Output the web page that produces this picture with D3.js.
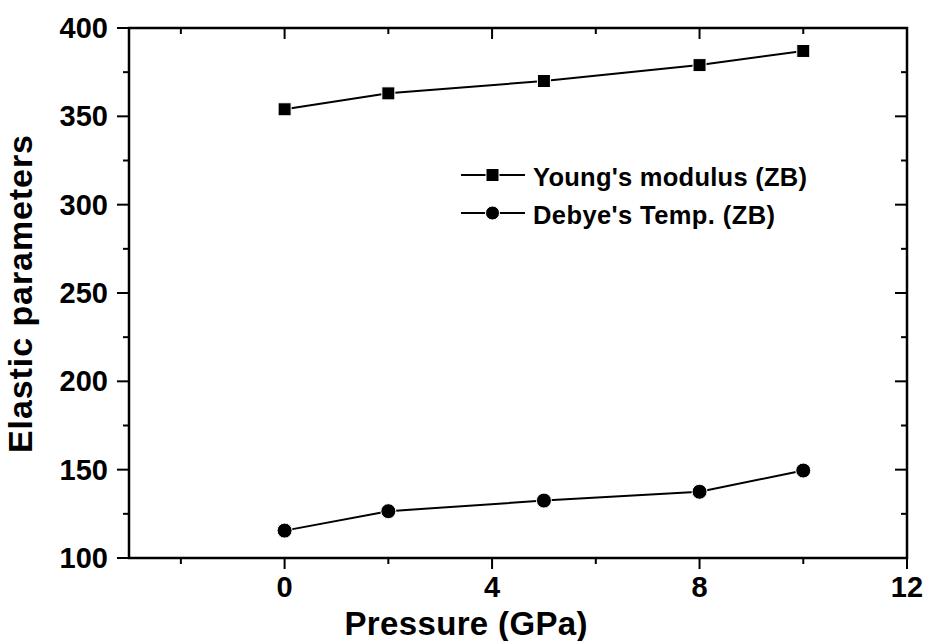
<!DOCTYPE html>
<html>
<head>
<meta charset="utf-8">
<script src="https://cdn.jsdelivr.net/npm/d3@7"></script>
<style>
  body { margin: 0; background: #fff; }
  text { font-family: Arial, "Liberation Sans", sans-serif; font-weight: bold; fill: #000; }
</style>
</head>
<body>
<svg id="chart"></svg>
<script>
// Data
var pressure = [0, 2, 5, 8, 10];
var youngs = [354, 363, 370, 379, 387];
var debye = [115.5, 126.5, 132.5, 137.5, 149.5];
var seriesNames = ["Young's modulus (ZB)", "Debye's Temp. (ZB)"];
var xTicks = [0, 4, 8, 12];
var yTicks = [100, 150, 200, 250, 300, 350, 400];

var width = 927, height = 641;
var plotL = 129, plotR = 907, plotT = 28, plotB = 558;

var svg = d3.select('#chart')
  .attr('width', width)
  .attr('height', height);

var x = d3.scaleLinear().domain([-3, 12]).range([plotL, plotR]);
var y = d3.scaleLinear().domain([100, 400]).range([plotB, plotT]);

var minorX = d3.range(-2, 12.1, 2);
var minorY = d3.range(100, 400.1, 25);

// frame
svg.append('rect')
  .attr('x', plotL).attr('y', plotT)
  .attr('width', plotR - plotL).attr('height', plotB - plotT)
  .attr('fill', 'none').attr('stroke', '#000').attr('stroke-width', 2.5);

// ticks: outward on bottom/left, inward on top/right
function isMajorX(v) { return v % 4 === 0; }
function isMajorY(v) { return v % 50 === 0; }

svg.append('g').selectAll('line').data(minorX).enter().append('line')
  .attr('x1', x).attr('x2', x)
  .attr('y1', plotB).attr('y2', function(d){ return plotB + (isMajorX(d) ? 11 : 6); })
  .attr('stroke', '#000').attr('stroke-width', 2);
svg.append('g').selectAll('line').data(minorX).enter().append('line')
  .attr('x1', x).attr('x2', x)
  .attr('y1', plotT).attr('y2', function(d){ return plotT + (isMajorX(d) ? 11 : 6); })
  .attr('stroke', '#000').attr('stroke-width', 2);
svg.append('g').selectAll('line').data(minorY).enter().append('line')
  .attr('y1', y).attr('y2', y)
  .attr('x1', plotL).attr('x2', function(d){ return plotL - (isMajorY(d) ? 12 : 6); })
  .attr('stroke', '#000').attr('stroke-width', 2);
svg.append('g').selectAll('line').data(minorY).enter().append('line')
  .attr('y1', y).attr('y2', y)
  .attr('x1', plotR).attr('x2', function(d){ return plotR - (isMajorY(d) ? 12 : 6); })
  .attr('stroke', '#000').attr('stroke-width', 2);

// tick labels
svg.append('g').selectAll('text').data(xTicks).enter().append('text')
  .attr('x', x).attr('y', plotB + 39)
  .attr('text-anchor', 'middle')
  .style('font-size', '29px')
  .text(function(d){ return d; });
svg.append('g').selectAll('text').data(yTicks).enter().append('text')
  .attr('x', plotL - 21).attr('y', function(d){ return y(d) + 10; })
  .attr('text-anchor', 'end')
  .style('font-size', '29px')
  .text(function(d){ return d; });

// axis titles
svg.append('text')
  .attr('x', 466).attr('y', 635)
  .attr('text-anchor', 'middle')
  .attr('textLength', 243).attr('lengthAdjust', 'spacing')
  .style('font-size', '33px')
  .text('Pressure (GPa)');
svg.append('text')
  .attr('transform', 'translate(32,294) rotate(-90)')
  .attr('text-anchor', 'middle')
  .attr('textLength', 318).attr('lengthAdjust', 'spacing')
  .style('font-size', '34px')
  .text('Elastic parameters');

// series
var line = d3.line()
  .x(function(d){ return x(d[0]); })
  .y(function(d){ return y(d[1]); });

var youngData = d3.zip(pressure, youngs);
var debyeData = d3.zip(pressure, debye);

svg.append('path').datum(youngData)
  .attr('d', line).attr('fill', 'none').attr('stroke', '#000').attr('stroke-width', 2);
svg.append('path').datum(debyeData)
  .attr('d', line).attr('fill', 'none').attr('stroke', '#000').attr('stroke-width', 2);

svg.append('g').selectAll('rect').data(youngData).enter().append('rect')
  .attr('x', function(d){ return x(d[0]) - 6.5; })
  .attr('y', function(d){ return y(d[1]) - 6.5; })
  .attr('width', 13).attr('height', 13)
  .attr('fill', '#000').attr('stroke', '#fff').attr('stroke-width', 1);
svg.append('g').selectAll('circle').data(debyeData).enter().append('circle')
  .attr('cx', function(d){ return x(d[0]); })
  .attr('cy', function(d){ return y(d[1]); })
  .attr('r', 7.5)
  .attr('fill', '#000').attr('stroke', '#fff').attr('stroke-width', 1);

// legend
var legend = svg.append('g');
var legY = [175, 213];
var legLen = [274, 242];
legend.selectAll('line').data(legY).enter().append('line')
  .attr('x1', 461).attr('x2', 525)
  .attr('y1', function(d){ return d; }).attr('y2', function(d){ return d; })
  .attr('stroke', '#000').attr('stroke-width', 2);
legend.append('rect')
  .attr('x', 486).attr('y', legY[0] - 6.5).attr('width', 13).attr('height', 13)
  .attr('fill', '#000').attr('stroke', '#fff').attr('stroke-width', 1);
legend.append('circle')
  .attr('cx', 492.5).attr('cy', legY[1]).attr('r', 7)
  .attr('fill', '#000').attr('stroke', '#fff').attr('stroke-width', 1);
legend.selectAll('text').data(seriesNames).enter().append('text')
  .attr('x', 533).attr('y', function(d, i){ return legY[i] + 10.5; })
  .attr('textLength', function(d, i){ return legLen[i]; })
  .attr('lengthAdjust', 'spacing')
  .style('font-size', '25.5px')
  .text(function(d){ return d; });
</script>
</body>
</html>
